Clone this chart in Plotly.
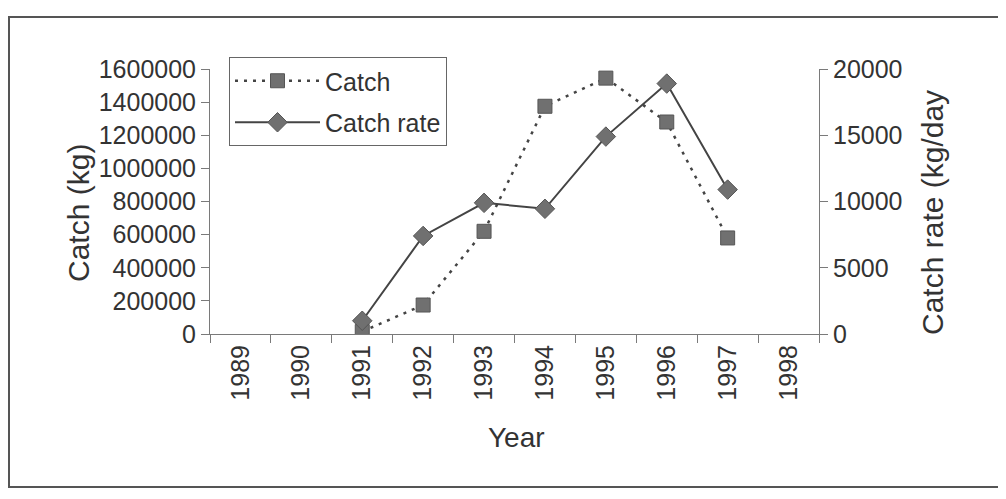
import plotly.graph_objects as go

years = ["1989", "1990", "1991", "1992", "1993", "1994", "1995", "1996", "1997", "1998"]
catch_years = ["1991", "1992", "1993", "1994", "1995", "1996", "1997"]
catch_kg = [15000, 175000, 620000, 1375000, 1545000, 1280000, 580000]
rate_years = ["1991", "1992", "1993", "1994", "1995", "1996", "1997"]
catch_rate = [1000, 7400, 9900, 9450, 14900, 18900, 10900]
left_ticks = [0, 200000, 400000, 600000, 800000, 1000000, 1200000, 1400000, 1600000]
right_ticks = [0, 5000, 10000, 15000, 20000]

FONT = "Liberation Sans, Arial, sans-serif"
TXT = "#333333"
AX = "#7a7a7a"

OFF = 8  # page body margin
W, H = 1006 - OFF, 499 - OFF
L, R, T, B = 210 - OFF, 819 - OFF, 69 - OFF, 334 - OFF
pw, ph = R - L, B - T


def px(x):
    return (x - OFF - L) / pw


def py(y):
    return (B - (y - OFF)) / ph


fig = go.Figure()
fig.add_trace(go.Scatter(
    x=catch_years, y=catch_kg, name="Catch", mode="lines+markers", legendgroup="a",
    line=dict(color="#444444", width=2.5, dash="3px,6px"),
    marker=dict(symbol="square", size=14, color="#707070", line=dict(color="#555555", width=1)),
    xaxis="x", yaxis="y",
))
fig.add_trace(go.Scatter(
    x=rate_years, y=catch_rate, name="Catch rate", mode="lines+markers", legendgroup="b",
    line=dict(color="#444444", width=2),
    marker=dict(symbol="diamond", size=15, color="#707070", line=dict(color="#555555", width=1)),
    xaxis="x", yaxis="y2",
))

common_x = dict(type="category", categoryorder="array", categoryarray=years,
                range=[-0.5, 9.5], tickson="boundaries", showgrid=False, zeroline=False)

fig.update_layout(
    width=W, height=H,
    margin=dict(l=L, r=W - R, t=T, b=H - B, pad=0),
    paper_bgcolor="white", plot_bgcolor="white",
    font=dict(family=FONT, size=24, color=TXT),
    showlegend=True,
    legend=dict(x=px(229), y=py(57), xanchor="left", yanchor="top",
                bordercolor="#666666", borderwidth=1, bgcolor="white",
                font=dict(size=25, color=TXT), itemwidth=85,
                tracegroupgap=6),
    xaxis=dict(**common_x,
               showline=True, linecolor=AX, linewidth=1,
               ticks="outside", ticklen=8, tickcolor=AX, tickwidth=1,
               tickangle=-90, tickfont=dict(size=25, color=TXT),
               anchor="y"),
    xaxis2=dict(**common_x, overlaying="x", anchor="y",
                showline=False, ticks="inside", ticklen=7, tickcolor=AX, tickwidth=1,
                showticklabels=False),
    yaxis=dict(range=[0, 1600000], tickvals=left_ticks, ticktext=[str(v) for v in left_ticks],
               showgrid=False, zeroline=False,
               showline=True, linecolor=AX, linewidth=1,
               ticks="outside", ticklen=8, tickcolor=AX, tickwidth=1,
               tickfont=dict(size=25, color=TXT),
               anchor="x"),
    yaxis3=dict(range=[0, 1600000], tickvals=left_ticks, overlaying="y", side="left", anchor="x",
                showgrid=False, zeroline=False, showline=False,
                ticks="inside", ticklen=7, tickcolor=AX, tickwidth=1, showticklabels=False),
    yaxis2=dict(range=[0, 20000], tickvals=right_ticks, ticktext=[str(v) for v in right_ticks],
                overlaying="y", side="right", anchor="x",
                showgrid=False, zeroline=False,
                showline=True, linecolor=AX, linewidth=1,
                ticks="outside", ticklen=8, tickcolor=AX, tickwidth=1,
                tickfont=dict(size=25, color=TXT)),
    yaxis4=dict(range=[0, 20000], tickvals=right_ticks, overlaying="y", side="right", anchor="x",
                showgrid=False, zeroline=False, showline=False,
                ticks="inside", ticklen=7, tickcolor=AX, tickwidth=1, showticklabels=False),
    annotations=[
        dict(text="Catch (kg)", xref="paper", yref="paper", x=px(78), y=py(213),
             xanchor="center", yanchor="middle", textangle=-90, showarrow=False,
             font=dict(size=30, color=TXT)),
        dict(text="Catch rate (kg/day", xref="paper", yref="paper", x=px(932), y=py(213),
             xanchor="center", yanchor="middle", textangle=-90, showarrow=False,
             font=dict(size=30, color=TXT)),
        dict(text="Year", xref="paper", yref="paper", x=px(516), y=py(437),
             xanchor="center", yanchor="middle", showarrow=False,
             font=dict(size=28, color=TXT)),
    ],
    shapes=[dict(type="rect", xref="paper", yref="paper",
                 x0=px(9), x1=px(1012), y0=py(487), y1=py(17),
                 line=dict(color="#555555", width=2), fillcolor="rgba(0,0,0,0)", layer="below")],
)

fig.write_html("out.html")
